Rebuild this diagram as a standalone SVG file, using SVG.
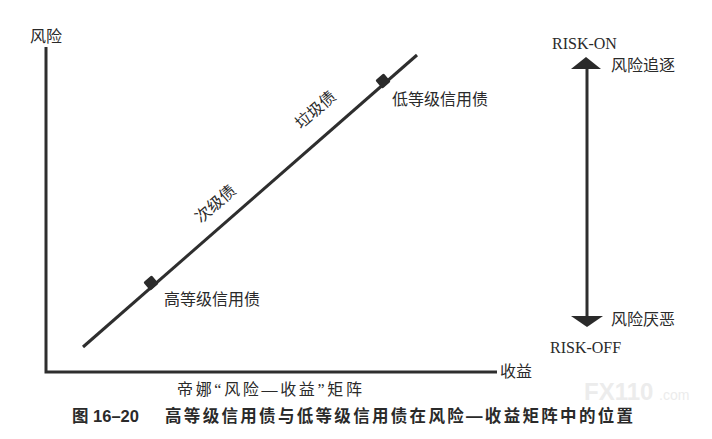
<svg xmlns="http://www.w3.org/2000/svg" width="712" height="439" viewBox="0 0 712 439">
<style>
.t{font-family:"Liberation Serif","Noto Sans CJK SC",serif;font-size:16px;fill:#2a2a2a}
.r{font-family:"Liberation Serif",serif;font-size:16px;fill:#2a2a2a}
.b{font-family:"Liberation Sans","Noto Sans CJK SC",sans-serif;font-size:16.5px;font-weight:bold;fill:#2a2a2a}
.ln{stroke:#2e2e2e;fill:none}
.mk{fill:#2a2a2a}
</style>
<rect width="712" height="439" fill="#ffffff"/>
<g id="watermark">
<text x="584" y="400" font-family="Liberation Sans, sans-serif" font-weight="bold" font-size="24" fill="#ececec">FX110</text>
<text x="659" y="400" font-family="Liberation Sans, sans-serif" font-size="14" fill="#ececec">.com</text>
</g>
<g id="connectors">
<path class="ln" stroke-width="3" d="M46,47 V372 H497"/>
<line class="ln" stroke-width="3" x1="83" y1="347" x2="417" y2="55"/>
<line class="ln" stroke-width="3" x1="587" y1="66" x2="587" y2="318"/>
<polygon class="mk" points="586,57 601,69 571,69"/>
<polygon class="mk" points="587,327 603,316 571,316"/>
</g>
<g id="axis-labels">
<text class="t" x="30" y="42">风险</text>
<text class="t" x="500" y="377">收益</text>
</g>
<g id="high-grade">
<rect class="mk" x="-5.5" y="-5.5" width="11" height="11" rx="1.5" transform="translate(151,283) rotate(-41)"/>
<text class="t" x="164" y="305">高等级信用债</text>
</g>
<g id="low-grade">
<rect class="mk" x="-5.5" y="-5.5" width="11" height="11" rx="1.5" transform="translate(383,81) rotate(-41)"/>
<text class="t" x="392" y="105">低等级信用债</text>
</g>
<g id="subprime">
<text class="t" text-anchor="middle" transform="translate(219,208) rotate(-41)">次级债</text>
</g>
<g id="junk">
<text class="t" text-anchor="middle" transform="translate(319,114) rotate(-41)">垃圾债</text>
</g>
<g id="risk-on">
<text class="r" x="552" y="49">RISK-ON</text>
<text class="t" x="611" y="71">风险追逐</text>
</g>
<g id="risk-off">
<text class="t" x="611" y="325">风险厌恶</text>
<text class="r" x="550" y="353">RISK-OFF</text>
</g>
<g id="captions">
<text class="t" x="177" y="395" textLength="185" lengthAdjust="spacing">帝娜“风险—收益”矩阵</text>
<text class="b" x="72" y="422">图 16–20</text>
<text class="b" x="165" y="422" textLength="468" lengthAdjust="spacing">高等级信用债与低等级信用债在风险—收益矩阵中的位置</text>
</g>
</svg>
